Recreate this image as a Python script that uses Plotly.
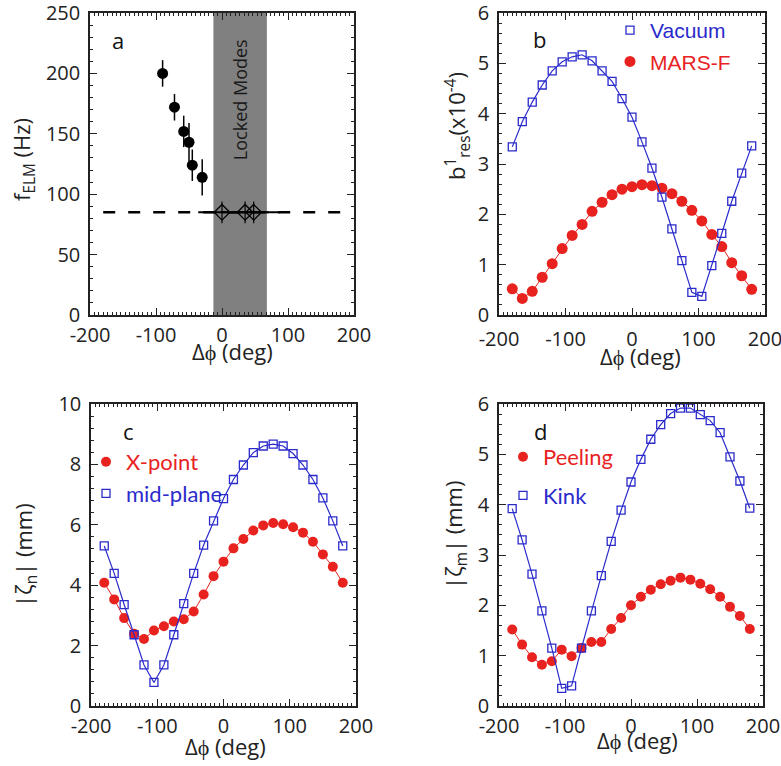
import plotly.graph_objects as go

# ---------------- data ----------------
# panel a
a_phi = [-90, -72, -58, -50, -45, -30]
a_felm = [200, 172, 152, 143, 124, 114]
a_err = [11, 11, 13, 16, 13, 15]
lm_phi = [0, 35, 48]
lm_felm = [85, 85, 85]
lm_errx = [36, 36, 40]
lm_erry = [9, 9, 9]
locked_band = [-13, 68]
thr_phi = [-180, 180]
thr_felm = [85, 85]

# common phase scan
phi = [-180, -165, -150, -135, -120, -105, -90, -75, -60, -45, -30, -15, 0,
       15, 30, 45, 60, 75, 90, 105, 120, 135, 150, 165, 180]

# panel b
b_vacuum = [3.34, 3.84, 4.23, 4.57, 4.85, 5.03, 5.13, 5.17, 5.05, 4.85, 4.64, 4.30, 3.93,
            3.44, 2.92, 2.34, 1.71, 1.08, 0.45, 0.37, 0.98, 1.62, 2.26, 2.82, 3.36]
b_marsf = [0.52, 0.33, 0.47, 0.75, 1.02, 1.32, 1.58, 1.80, 2.06, 2.24, 2.39, 2.50, 2.55,
           2.59, 2.57, 2.52, 2.41, 2.26, 2.08, 1.87, 1.60, 1.36, 1.04, 0.78, 0.51]

# panel c
c_xpoint = [4.08, 3.53, 2.91, 2.39, 2.22, 2.50, 2.64, 2.80, 2.87, 3.13, 3.69, 4.30, 4.78,
            5.22, 5.53, 5.81, 5.98, 6.06, 6.02, 5.92, 5.74, 5.44, 5.02, 4.61, 4.08]
c_midplane = [5.30, 4.39, 3.36, 2.36, 1.36, 0.78, 1.36, 2.36, 3.39, 4.39, 5.33, 6.13, 6.87,
              7.50, 7.98, 8.39, 8.61, 8.67, 8.61, 8.36, 7.98, 7.50, 6.89, 6.13, 5.30]

# panel d
d_peeling = [1.52, 1.22, 0.97, 0.82, 0.89, 1.12, 0.99, 1.15, 1.27, 1.27, 1.53, 1.75, 2.00,
             2.17, 2.31, 2.42, 2.49, 2.55, 2.51, 2.43, 2.32, 2.17, 1.97, 1.79, 1.53]
d_kink = [3.92, 3.30, 2.62, 1.89, 1.15, 0.35, 0.40, 1.15, 1.89, 2.59, 3.27, 3.89, 4.45,
          4.90, 5.30, 5.59, 5.81, 5.92, 5.92, 5.79, 5.67, 5.43, 4.95, 4.47, 3.93]

x_tickvals = [-200, -100, 0, 100, 200]
x_ticktext = ["-200", "-100", "0", "100", "200"]
ya_tickvals = [0, 50, 100, 150, 200, 250]
yb_tickvals = [0, 1, 2, 3, 4, 5, 6]
yc_tickvals = [0, 2, 4, 6, 8, 10]
yd_tickvals = [0, 1, 2, 3, 4, 5, 6]

# ---------------- style ----------------
RED = "#e8231f"
BLUE = "#2b2bcc"
AX = "#222222"
TICKFONT = dict(family="Open Sans", size=20, color="#222222")
TITLEFONT = dict(family="Open Sans", size=22, color="#222222")
W, H = 781, 766


def px_x(a, b):
    return [a / W, b / W]


def px_y(top, bottom):
    return [1 - bottom / H, 1 - top / H]


def xaxis(dom, anchor, so=1):
    return dict(domain=dom, anchor=anchor, range=[-200, 200], automargin=False,
                tickvals=x_tickvals, ticktext=x_ticktext, ticklabeloverflow="allow",
                showline=True, linecolor=AX, linewidth=1.5, mirror="allticks",
                ticks="inside", ticklen=7, tickwidth=1.2, tickcolor=AX,
                minor=dict(ticks="inside", ticklen=3, tickwidth=1, tickcolor=AX, dtick=20 / 3, tick0=0),
                showgrid=False, zeroline=False, tickfont=TICKFONT,
                ticklabelstandoff=so)


def yaxis(dom, anchor, rng, tv, mdt):
    return dict(domain=dom, anchor=anchor, range=rng, tickvals=tv, automargin=False,
                ticklabeloverflow="allow",
                showline=True, linecolor=AX, linewidth=1.5, mirror="allticks",
                ticks="inside", ticklen=7, tickwidth=1.2, tickcolor=AX,
                minor=dict(ticks="inside", ticklen=3, tickwidth=1, tickcolor=AX, dtick=mdt),
                showgrid=False, zeroline=False, tickfont=TICKFONT,
                ticklabelstandoff=4)


fig = go.Figure()

# ---- panel a ----
fig.add_trace(go.Scatter(x=thr_phi, y=thr_felm, mode="lines", xaxis="x", yaxis="y",
                         line=dict(color="black", width=2.5, dash="12px,13px"),
                         showlegend=False, hoverinfo="skip"))
fig.add_trace(go.Scatter(x=a_phi, y=a_felm, mode="markers", xaxis="x", yaxis="y",
                         marker=dict(symbol="circle", size=11, color="black"),
                         error_y=dict(type="data", array=a_err, color="black", thickness=1.5, width=0),
                         showlegend=False))
fig.add_trace(go.Scatter(x=lm_phi, y=lm_felm, mode="markers", xaxis="x", yaxis="y",
                         marker=dict(symbol="diamond-open", size=12, color="black", line=dict(width=1.3)),
                         error_x=dict(type="data", array=lm_errx, color="black", thickness=2, width=0),
                         error_y=dict(type="data", array=lm_erry, color="black", thickness=1.2, width=0),
                         showlegend=False))


def add_series(x, y, ax, color, symbol, size, name, legend, rank, lw):
    # connecting line (not in legend)
    fig.add_trace(go.Scatter(x=x, y=y, mode="lines", xaxis="x" + ax, yaxis="y" + ax,
                             line=dict(color=color, width=lw), showlegend=False, hoverinfo="skip"))
    mk = dict(symbol=symbol, size=size, color=color)
    if symbol.endswith("open"):
        mk["line"] = dict(width=1.3, color=color)
    fig.add_trace(go.Scatter(x=x, y=y, mode="markers", xaxis="x" + ax, yaxis="y" + ax,
                             name="<span style='color:%s'>%s</span>" % (color, name),
                             legend=legend, legendrank=rank, legendgroup=legend + str(rank),
                             marker=mk))


# ---- panel b ----
add_series(phi, b_marsf, "2", RED, "circle", 11, "MARS-F", "legend", 2, 1)
add_series(phi, b_vacuum, "2", BLUE, "square-open", 8, "Vacuum", "legend", 1, 1.2)
# ---- panel c ----
add_series(phi, c_xpoint, "3", RED, "circle", 10, "X-point", "legend2", 1, 1)
add_series(phi, c_midplane, "3", BLUE, "square-open", 8, "mid-plane", "legend2", 2, 1.2)
# ---- panel d ----
add_series(phi, d_peeling, "4", RED, "circle", 10, "Peeling", "legend3", 1, 1)
add_series(phi, d_kink, "4", BLUE, "square-open", 8, "Kink", "legend3", 2, 1.2)

# domains (pixel boxes)
xa = px_x(90, 354)
xb = px_x(499, 765)
xc = px_x(91, 356)
xd = px_x(499, 763)
ytop = px_y(13, 315)
ybot = px_y(404, 706)


def ptitle(text, xpx, ypx, angle=0):
    return dict(text=text, xref="paper", yref="paper", x=xpx / W, y=1 - ypx / H,
                xanchor="center", yanchor="middle", showarrow=False, textangle=angle,
                font=TITLEFONT)


def plabel(text, ax, xd_, yd_):
    return dict(text=text, xref=ax[0] + " domain", yref=ax[1] + " domain", x=xd_, y=yd_,
                xanchor="center", yanchor="middle", showarrow=False,
                font=dict(family="Open Sans", size=22, color="#111"))


fig.update_layout(
    width=W, height=H, margin=dict(l=0, r=0, t=0, b=0),
    paper_bgcolor="white", plot_bgcolor="white",
    font=dict(family="Open Sans", color="#222222"),
    xaxis=xaxis(xa, "y"),
    yaxis=yaxis(ytop, "x", [0, 250], ya_tickvals, 10),
    xaxis2=xaxis(xb, "y2", 5),
    yaxis2=yaxis(ytop, "x2", [0, 6], yb_tickvals, 0.2),
    xaxis3=xaxis(xc, "y3"),
    yaxis3=yaxis(ybot, "x3", [0, 10], yc_tickvals, 0.4),
    xaxis4=xaxis(xd, "y4"),
    yaxis4=yaxis(ybot, "x4", [0, 6], yd_tickvals, 0.2),
    legend=dict(x=610 / W, y=1 - 10 / H, xanchor="left", yanchor="top",
                bgcolor="rgba(0,0,0,0)", font=dict(family="Liberation Sans", size=21),
                tracegroupgap=1, itemclick=False),
    legend2=dict(x=86 / W, y=1 - 441 / H, xanchor="left", yanchor="top",
                 bgcolor="rgba(0,0,0,0)", font=dict(family="Lato", size=22),
                 tracegroupgap=0, itemclick=False),
    legend3=dict(x=503 / W, y=1 - 436 / H, xanchor="left", yanchor="top",
                 bgcolor="rgba(0,0,0,0)", font=dict(family="Lato", size=22),
                 tracegroupgap=7, itemclick=False),
    shapes=[dict(type="rect", xref="x", yref="y domain", x0=locked_band[0], x1=locked_band[1],
                 y0=0, y1=1, fillcolor="#808080", line=dict(width=0), layer="below")],
    annotations=[
        dict(text="Locked Modes", xref="x", yref="y", x=sum(locked_band) / 2, y=178,
             textangle=-90, showarrow=False, font=dict(family="Open Sans", size=18, color="#1a1a1a")),
        plabel("a", ("x", "y"), 0.106, 0.91),
        plabel("b", ("x2", "y2"), 0.154, 0.915),
        plabel("c", ("x3", "y3"), 0.141, 0.91),
        plabel("d", ("x4", "y4"), 0.158, 0.912),
        # axis titles
        ptitle("Δϕ (deg)", 232, 351),
        ptitle("Δϕ (deg)", 640, 356),
        ptitle("Δϕ (deg)", 225, 746),
        ptitle("Δϕ (deg)", 637, 740),
        ptitle("f<sub>ELM</sub> (Hz)", 23, 160, -90),
        ptitle("b<sup>1</sup><sub>res</sub>(x10<sup>-4</sup>)", 457, 126, -90),
        ptitle("|ζ<sub>n</sub>| (mm)", 25, 555, -90),
        ptitle("|ζ<sub>m</sub>| (mm)", 455, 535, -90),
    ],
)

fig.write_html("out.html",
               config={"displayModeBar": False},
               post_script="document.body.style.margin='0px';"
                           "document.documentElement.style.overflow='hidden';")
